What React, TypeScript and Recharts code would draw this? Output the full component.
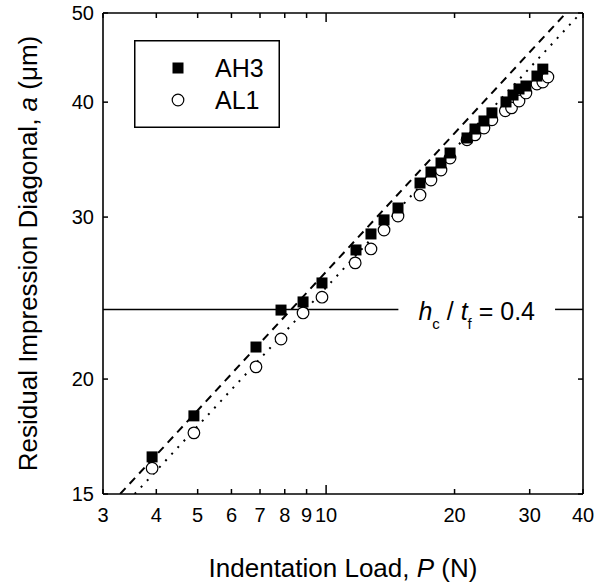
import React from 'react';
import {
  ScatterChart,
  Scatter,
  XAxis,
  YAxis,
  ReferenceLine,
  Legend,
} from 'recharts';

// indentation load P (N) and residual diagonal a (um)
const loadAH3 = [3.91, 4.9, 6.85, 7.84, 8.83, 9.78, 11.75, 12.74, 13.67, 14.74, 16.6, 17.61, 18.59, 19.52, 21.39, 22.33, 23.44, 24.47, 26.4, 27.42, 28.32, 29.4, 31.2, 32.2];
const diagAH3 = [16.46, 18.24, 21.67, 23.77, 24.26, 25.44, 27.63, 28.76, 29.79, 30.69, 32.67, 33.58, 34.35, 35.22, 36.57, 37.4, 38.16, 38.94, 40.02, 40.72, 41.34, 41.65, 42.7, 43.45];

const loadAL1 = [3.91, 4.9, 6.85, 7.84, 8.83, 9.78, 11.7, 12.74, 13.67, 14.74, 16.6, 17.61, 18.59, 19.52, 21.39, 22.33, 23.44, 24.47, 26.3, 27.2, 28.32, 29.4, 31.2, 32.2, 33.1];
const diagAL1 = [16.0, 17.48, 20.62, 22.11, 23.6, 24.55, 26.75, 27.7, 29.04, 30.08, 31.7, 32.91, 33.75, 34.78, 36.4, 36.85, 37.49, 38.27, 39.14, 39.43, 40.11, 40.93, 41.86, 42.06, 42.6];

// end points of the two fit lines
const dashedFit = [{ p: 3.29, a: 15 }, { p: 36.5, a: 50 }];
const dottedFit = [{ p: 3.56, a: 15 }, { p: 39.5, a: 50 }];

// critical depth line h_c / t_f = 0.4
const hcLevel = 23.81;
const hcGapStart = 14.77;
const hcGapEnd = 34.4;

const xTicks = [3, 4, 5, 6, 7, 8, 9, 10, 20, 30, 40];
const yTicks = [15, 20, 30, 40, 50];

const W = 606;
const H = 585;
const TOP = 13;
const RIGHT = 583;
const FONT = '"Liberation Sans", Arial, sans-serif';

const ah3 = loadAH3.map((p, i) => ({ p, a: diagAH3[i] }));
const al1 = loadAL1.map((p, i) => ({ p, a: diagAL1[i] }));

function XTick(props: any) {
  const { x, y, payload } = props;
  const v = payload.value;
  const len = v === 10 ? 9 : 5;
  return (
    <g>
      <line x1={x} x2={x} y1={y} y2={y - len} stroke="#000" strokeWidth={1.5} />
      <line x1={x} x2={x} y1={TOP} y2={TOP + len} stroke="#000" strokeWidth={1.5} />
      <text x={x} y={y + 28} textAnchor="middle" fontSize={20} fontFamily={FONT} fill="#000">
        {v}
      </text>
    </g>
  );
}

function YTick(props: any) {
  const { x, y, payload } = props;
  return (
    <g>
      <line x1={x} x2={x + 5} y1={y} y2={y} stroke="#000" strokeWidth={1.5} />
      <line x1={RIGHT - 5} x2={RIGHT} y1={y} y2={y} stroke="#000" strokeWidth={1.5} />
      <text x={x - 9} y={y} dy="0.36em" textAnchor="end" fontSize={20} fontFamily={FONT} fill="#000">
        {payload.value}
      </text>
    </g>
  );
}

function XTitle(props: any) {
  const vb = props.viewBox;
  return (
    <text x={vb.x + vb.width / 2} y={vb.y + 83} textAnchor="middle" fontSize={26} fontFamily={FONT} fill="#000">
      Indentation Load, <tspan fontStyle="italic">P</tspan> (N)
    </text>
  );
}

function YTitle(props: any) {
  const vb = props.viewBox;
  const cx = 37;
  const cy = vb.y + vb.height / 2;
  return (
    <text x={cx} y={cy} transform={`rotate(-90, ${cx}, ${cy})`} textAnchor="middle" fontSize={26} fontFamily={FONT} fill="#000">
      Residual Impression Diagonal, <tspan fontStyle="italic">a</tspan> (μm)
    </text>
  );
}

function HcLabel(props: any) {
  const vb = props.viewBox;
  const cx = vb.x + vb.width / 2;
  const y = vb.y + 11;
  return (
    <text x={cx} y={y} textAnchor="middle" fontSize={25} fontFamily={FONT} fill="#000">
      <tspan fontStyle="italic">h</tspan>
      <tspan fontSize={15} dy={9}>c</tspan>
      <tspan dy={-9}> / </tspan>
      <tspan fontStyle="italic">t</tspan>
      <tspan fontSize={15} dy={9}>f</tspan>
      <tspan dy={-9}> = 0.4</tspan>
    </text>
  );
}

function LegendBox() {
  return (
    <svg width={146} height={88} style={{ display: 'block' }}>
      <rect x={0.75} y={0.75} width={144.5} height={86.5} fill="#fff" stroke="#000" strokeWidth={1.5} />
      <rect x={38.5} y={22.5} width={11} height={11} fill="#000" />
      <text x={81} y={37} fontSize={25} fontFamily={FONT} fill="#000">AH3</text>
      <circle cx={44} cy={60} r={5.8} fill="#fff" stroke="#000" strokeWidth={1.2} />
      <text x={81} y={69} fontSize={25} fontFamily={FONT} fill="#000">AL1</text>
    </svg>
  );
}

const square = (props: any) => (
  <rect x={props.cx - 5.5} y={props.cy - 5.5} width={11} height={11} fill="#000" />
);
const circle = (props: any) => (
  <circle cx={props.cx} cy={props.cy} r={5.8} fill="#fff" stroke="#000" strokeWidth={1.2} />
);
const nothing = () => <g />;

export default function App() {
  return (
    <div style={{ position: 'absolute', left: 0, top: 0, width: W, height: H, background: '#fff' }}>
      <ScatterChart width={W} height={H} margin={{ top: TOP, right: W - RIGHT, bottom: 0, left: 0 }}>
        <XAxis
          dataKey="p"
          type="number"
          scale="log"
          domain={[3, 40]}
          allowDataOverflow
          ticks={xTicks}
          interval={0}
          tickSize={0}
          tickMargin={0}
          height={91}
          tick={<XTick />}
          axisLine={{ stroke: '#000', strokeWidth: 1.6 }}
          tickLine={false}
          label={{ content: <XTitle /> }}
        />
        <YAxis
          dataKey="a"
          type="number"
          scale="log"
          domain={[15, 50]}
          allowDataOverflow
          ticks={yTicks}
          interval={0}
          tickSize={0}
          tickMargin={0}
          width={103}
          tick={<YTick />}
          axisLine={{ stroke: '#000', strokeWidth: 1.6 }}
          tickLine={false}
          label={{ content: <YTitle /> }}
        />
        <ReferenceLine x={40} stroke="#000" strokeWidth={1.6} ifOverflow="visible" />
        <ReferenceLine y={50} stroke="#000" strokeWidth={1.6} ifOverflow="visible" />
        <ReferenceLine
          segment={[{ x: 3, y: hcLevel }, { x: hcGapStart, y: hcLevel }]}
          stroke="#000"
          strokeWidth={1.5}
        />
        <ReferenceLine
          segment={[{ x: hcGapEnd, y: hcLevel }, { x: 40, y: hcLevel }]}
          stroke="#000"
          strokeWidth={1.5}
        />
        <ReferenceLine
          segment={[{ x: hcGapStart, y: hcLevel }, { x: hcGapEnd, y: hcLevel }]}
          stroke="none"
          label={<HcLabel />}
        />
        <Scatter
          data={dashedFit}
          line={{ stroke: '#000', strokeWidth: 2, strokeDasharray: '8 6' }}
          shape={nothing}
          isAnimationActive={false}
          legendType="none"
        />
        <Scatter
          data={dottedFit}
          line={{ stroke: '#000', strokeWidth: 2, strokeDasharray: '2 7' }}
          shape={nothing}
          isAnimationActive={false}
          legendType="none"
        />
        <Scatter name="AL1" data={al1} shape={circle} isAnimationActive={false} />
        <Scatter name="AH3" data={ah3} shape={square} isAnimationActive={false} />
        <Legend
          layout="vertical"
          align="center"
          verticalAlign="middle"
          content={<LegendBox />}
          wrapperStyle={{ left: 134, top: 40, width: 146, height: 88 }}
        />
      </ScatterChart>
    </div>
  );
}
